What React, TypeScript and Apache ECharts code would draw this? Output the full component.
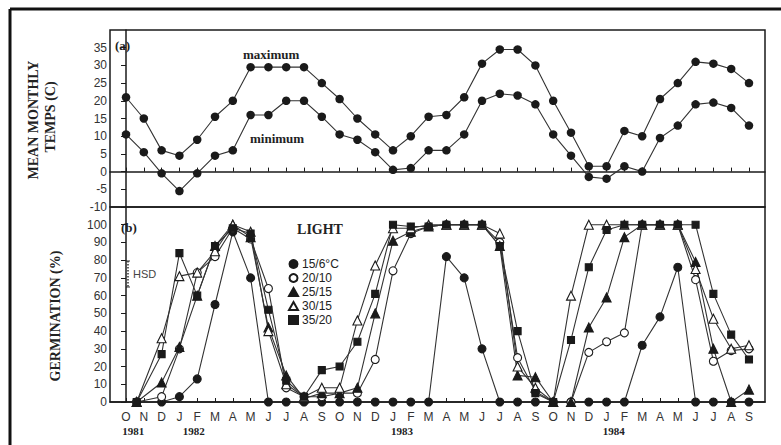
import React, { useEffect, useRef } from 'react';
import * as echarts from 'echarts';

// month index 0 = Oct 1981 ... 35 = Sep 1984
const monthIdx = [0, 1, 2, 3, 4, 5, 6, 7, 8, 9, 10, 11, 12, 13, 14, 15, 16, 17, 18, 19, 20, 21, 22, 23, 24, 25, 26, 27, 28, 29, 30, 31, 32, 33, 34, 35];
const monthLetters = ['O', 'N', 'D', 'J', 'F', 'M', 'A', 'M', 'J', 'J', 'A', 'S', 'O', 'N', 'D', 'J', 'F', 'M', 'A', 'M', 'J', 'J', 'A', 'S', 'O', 'N', 'D', 'J', 'F', 'M', 'A', 'M', 'J', 'J', 'A', 'S'];
const yearPos = [0.4, 3.8, 15.5, 27.4];
const yearLabels = ['1981', '1982', '1983', '1984'];

const tempMax = [21, 15, 6, 4.5, 9, 15.5, 20, 29.5, 29.5, 29.5, 29.5, 25, 20.5, 15, 10.5, 6, 10, 15.5, 16, 21, 30.5, 34.5, 34.5, 30, 20, 11, 1.5, 1.5, 11.5, 10, 20.5, 25, 31, 30.5, 29, 25];
const tempMin = [10.5, 5.5, -0.5, -5.5, -0.5, 4.5, 6, 16, 16, 20, 20, 15.5, 10.5, 9, 5.5, 0.5, 1, 6, 6, 10.5, 20, 22, 21.5, 19, 10.5, 4.5, -1.5, -2, 1.5, 0, 9.5, 13, 19, 19.5, 18, 13];
const tempTicks = [-10, -5, 0, 5, 10, 15, 20, 25, 30, 35];

const germMonths = [0.6, 2, 3, 4, 5, 6, 7, 8, 9, 10, 11, 12, 13, 14, 15, 16, 17, 18, 19, 20, 21, 22, 23, 24, 25, 26, 27, 28, 29, 30, 31, 32, 33, 34, 35];
const g15_6 = [0, 0, 3, 13, 55, 96, 70, 0, 0, 0, 0, 0, 0, 0, 0, 0, 0, 82, 70, 30, 0, 0, 0, 0, 0, 0, 0, 0, 32, 48, 76, 0, 0, 0, 0];
const g20_10 = [0, 3, 30, 73, 82, 98, 92, 64, 8, 3, 3, 5, 5, 24, 74, 95, 99, 100, 100, 100, 90, 25, 6, 0, 0, 28, 34, 39, 100, 100, 100, 69, 23, 29, 30];
const g25_15 = [0, 11, 31, 60, 88, 100, 93, 42, 15, 2, 5, 5, 8, 50, 91, 96, 99, 100, 100, 100, 88, 15, 14, 0, 0, 42, 59, 93, 100, 100, 100, 79, 30, 0, 7];
const g30_15 = [0, 36, 71, 73, 85, 100, 96, 40, 10, 3, 8, 8, 46, 77, 98, 98, 100, 100, 100, 100, 95, 20, 8, 0, 60, 100, 100, 100, 100, 100, 100, 75, 47, 30, 32];
const g35_20 = [0, 27, 84, 60, 88, 98, 95, 52, 12, 3, 18, 20, 34, 61, 100, 99, 99, 100, 100, 100, 88, 40, 5, 0, 35, 76, 97, 100, 100, 100, 100, 100, 61, 38, 24];
const germTicks = [0, 10, 20, 30, 40, 50, 60, 70, 80, 90, 100];
const germNames = ['15/6°C', '20/10', '25/15', '30/15', '35/20'];

const INK = '#1a1a1a';
const SERIF = 'Liberation Serif';
const SANS = 'Liberation Sans';

export default function App() {
  const ref = useRef<HTMLDivElement>(null);
  useEffect(() => {
    if (!ref.current) return;
    const chart = echarts.init(ref.current, null, { renderer: 'svg' });
    const pair = (xs: number[], ys: number[]) => xs.map((x, i) => [x, ys[i]]);
    const lineBase = {
      type: 'line' as const,
      lineStyle: { color: '#333', width: 1.1 },
      emphasis: { disabled: true },
    };
    const germSeries = [
      { name: germNames[0], data: g15_6, symbol: 'circle', size: 8, fill: INK },
      { name: germNames[1], data: g20_10, symbol: 'circle', size: 8, fill: '#fff' },
      { name: germNames[2], data: g25_15, symbol: 'triangle', size: 9, fill: INK },
      { name: germNames[3], data: g30_15, symbol: 'triangle', size: 9, fill: '#fff' },
      { name: germNames[4], data: g35_20, symbol: 'rect', size: 7, fill: INK },
    ].map((s) => ({
      ...lineBase,
      name: s.name,
      xAxisIndex: 1,
      yAxisIndex: 1,
      data: pair(germMonths, s.data),
      symbol: s.symbol,
      symbolSize: s.size,
      itemStyle: { color: s.fill, borderColor: INK, borderWidth: 1.1 },
    }));

    const axisText = { color: '#333', fontFamily: SANS, fontSize: 12 };
    const option = {
      animation: false,
      backgroundColor: '#fff',
      grid: [
        { left: 110, right: 16, top: 30, height: 177, show: true, borderColor: INK, borderWidth: 1.5 },
        { left: 110, right: 16, top: 207, height: 195, show: true, borderColor: INK, borderWidth: 1.5 },
      ],
      xAxis: [
        {
          gridIndex: 0, type: 'value', min: -0.9, max: 35.9,
          axisLine: { show: true, lineStyle: { color: INK, width: 1.5 } },
          axisTick: { show: true, inside: true, length: 4, customValues: monthIdx, lineStyle: { color: INK } },
          axisLabel: { show: false },
          splitLine: { show: false },
        },
        {
          gridIndex: 1, type: 'value', min: -0.9, max: 35.9,
          axisLine: { show: true, lineStyle: { color: INK, width: 1.5 } },
          axisTick: { show: true, inside: true, length: 4, customValues: monthIdx, lineStyle: { color: INK } },
          axisLabel: {
            ...axisText, margin: 9, customValues: monthIdx,
            formatter: (v: number) => monthLetters[Math.round(v)] ?? '',
          },
          splitLine: { show: false },
        },
        {
          gridIndex: 1, type: 'value', min: -0.9, max: 35.9, position: 'bottom', offset: 14,
          axisLine: { show: false }, axisTick: { show: false }, splitLine: { show: false },
          axisLabel: {
            color: '#222', fontFamily: SERIF, fontWeight: 'bold', fontSize: 11, margin: 9,
            customValues: yearPos,
            formatter: (v: number) => {
              const i = yearPos.findIndex((p) => Math.abs(p - v) < 0.01);
              return i >= 0 ? yearLabels[i] : '';
            },
          },
        },
      ],
      yAxis: [
        {
          gridIndex: 0, type: 'value', min: -10, max: 40,
          axisLine: { show: true, lineStyle: { color: INK, width: 1.5 } },
          axisTick: { show: true, length: 5, customValues: tempTicks, lineStyle: { color: INK } },
          axisLabel: { ...axisText, margin: 3, customValues: tempTicks },
          splitLine: { show: false },
        },
        {
          gridIndex: 1, type: 'value', min: 0, max: 110,
          axisLine: { show: true, lineStyle: { color: INK, width: 1.5 } },
          axisTick: { show: true, length: 5, customValues: germTicks, lineStyle: { color: INK } },
          axisLabel: { ...axisText, margin: 3, customValues: germTicks },
          splitLine: { show: false },
        },
      ],
      legend: {
        left: 283, top: 253, orient: 'vertical', itemGap: 2, itemWidth: 9, itemHeight: 8,
        selectedMode: false,
        textStyle: { color: '#222', fontFamily: SANS, fontSize: 12, padding: [0, 0, 0, -1] },
        data: [
          { name: germNames[0], icon: 'circle' },
          { name: germNames[1], icon: 'circle' },
          { name: germNames[2], icon: 'triangle' },
          { name: germNames[3], icon: 'triangle' },
          { name: germNames[4], icon: 'rect' },
        ],
      },
      series: [
        {
          ...lineBase, name: 'maximum', xAxisIndex: 0, yAxisIndex: 0,
          data: pair(monthIdx, tempMax), symbol: 'circle', symbolSize: 8.5,
          itemStyle: { color: INK },
        },
        {
          ...lineBase, name: 'minimum', xAxisIndex: 0, yAxisIndex: 0,
          data: pair(monthIdx, tempMin), symbol: 'circle', symbolSize: 8.5,
          itemStyle: { color: INK },
        },
        ...germSeries,
      ],
      graphic: [
        { type: 'line', shape: { x1: 10, y1: 9, x2: 781, y2: 9 }, style: { stroke: '#111', lineWidth: 3 } },
        { type: 'line', shape: { x1: 10, y1: 9, x2: 10, y2: 445 }, style: { stroke: '#111', lineWidth: 3 } },
        {
          type: 'text', x: 33, y: 120, rotation: Math.PI / 2,
          style: { text: 'MEAN MONTHLY', fill: '#222', font: `bold 14px "${SERIF}"`, align: 'center', verticalAlign: 'middle' },
        },
        {
          type: 'text', x: 50, y: 117, rotation: Math.PI / 2,
          style: { text: 'TEMPS (C)', fill: '#222', font: `bold 14px "${SERIF}"`, align: 'center', verticalAlign: 'middle' },
        },
        {
          type: 'text', x: 55, y: 316, rotation: Math.PI / 2,
          style: { text: 'GERMINATION (%)', fill: '#222', font: `bold 14px "${SERIF}"`, align: 'center', verticalAlign: 'middle' },
        },
        { type: 'text', x: 115, y: 45, style: { text: '(a)', fill: '#222', font: `bold 13px "${SERIF}"`, verticalAlign: 'middle' } },
        { type: 'text', x: 121, y: 227, style: { text: '(b)', fill: '#222', font: `bold 13px "${SERIF}"`, verticalAlign: 'middle' } },
        { type: 'text', x: 243, y: 54, style: { text: 'maximum', fill: '#222', font: `bold 13px "${SERIF}"`, verticalAlign: 'middle' } },
        { type: 'text', x: 250, y: 138, style: { text: 'minimum', fill: '#222', font: `bold 13px "${SERIF}"`, verticalAlign: 'middle' } },
        { type: 'text', x: 320, y: 229, style: { text: 'LIGHT', fill: '#222', font: `bold 14px "${SERIF}"`, align: 'center', verticalAlign: 'middle' } },
        { type: 'line', shape: { x1: 128, y1: 261, x2: 128, y2: 287 }, style: { stroke: '#333', lineWidth: 1.5, lineDash: [1.5, 1.5] } },
        { type: 'line', shape: { x1: 126, y1: 261, x2: 130, y2: 261 }, style: { stroke: '#333', lineWidth: 1 } },
        { type: 'line', shape: { x1: 126, y1: 287, x2: 130, y2: 287 }, style: { stroke: '#333', lineWidth: 1 } },
        { type: 'text', x: 133, y: 274, style: { text: 'HSD', fill: '#444', font: `11px "${SANS}"`, verticalAlign: 'middle' } },
      ],
    };
    chart.setOption(option as any);
    return () => chart.dispose();
  }, []);
  return <div ref={ref} style={{ width: 781, height: 445, position: 'absolute', left: 0, top: 0, background: '#fff' }} />;
}
